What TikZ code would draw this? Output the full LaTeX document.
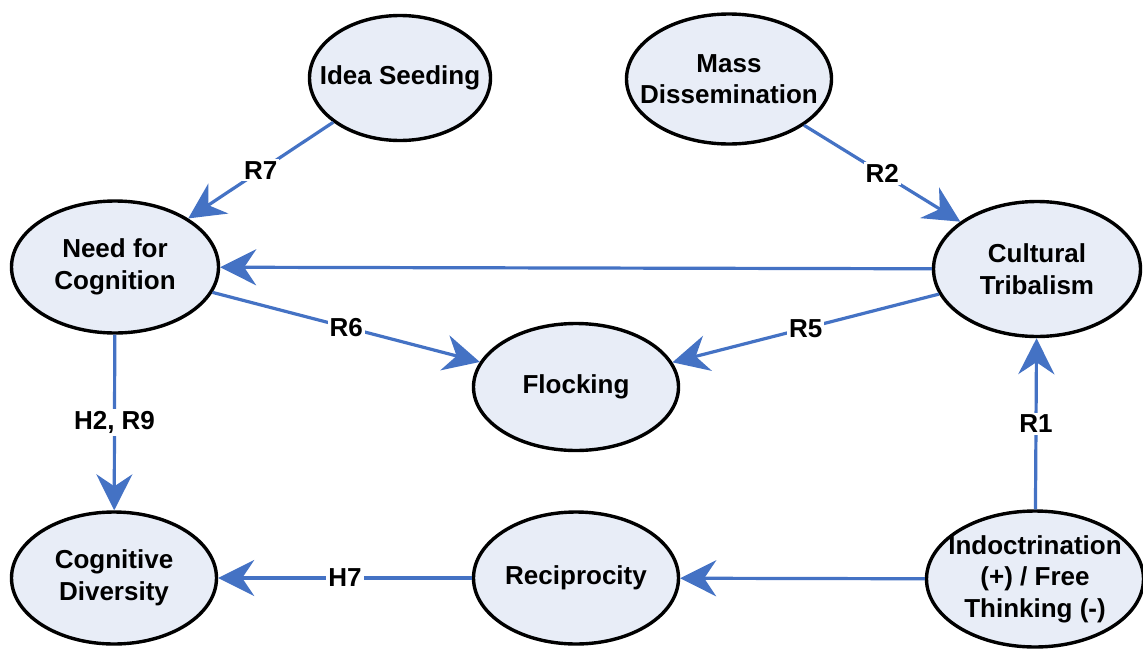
\documentclass[tikz,border=0pt]{standalone}
\usepackage{fontspec}
\setmainfont{Liberation Sans}
\usetikzlibrary{shapes.geometric,arrows.meta}
\definecolor{conceptfill}{RGB}{232,237,247}
\definecolor{linkblue}{RGB}{68,114,196}
\tikzset{
  concept/.style={ellipse,draw=black,line width=3.4pt,fill=conceptfill,
    align=center,inner sep=-20pt,minimum width=205pt,minimum height=132pt,
    font=\fontsize{26}{31.5}\selectfont\bfseries},
  link/.style={draw=linkblue,line width=3.2pt,
    -{Stealth[length=36pt,width=36pt,inset=12pt]}},
  tag/.style={fill=white,inner sep=2pt,font=\fontsize{26}{31}\selectfont\bfseries}
}
\begin{document}
\begin{tikzpicture}[x=1pt,y=-1pt]
\useasboundingbox(0,0)rectangle(1143,648);
\node[concept,minimum width=181pt,minimum height=125pt](seed)at(400,78){Idea Seeding};
\node[concept,minimum height=130pt](mass)at(729,79){Mass\\Dissemination};
\node[concept,minimum width=207pt](need)at(115,267){Need for\\Cognition};
\node[concept,minimum width=207pt,minimum height=135pt](tribe)at(1037,269){Cultural\\Tribalism};
\node[concept,minimum height=127pt](flock)at(576,387){Flocking};
\node[concept](diverse)at(114,578){Cognitive\\Diversity};
\node[concept](recip)at(576,578){Reciprocity};
\node[concept,minimum width=217pt,minimum height=136pt](indoc)at(1035,579){Indoctrination\\(+) / Free\\Thinking (-)};
\draw[link](seed)--node[tag]{R7}(need);
\draw[link](mass)--node[tag]{R2}(tribe);
\draw[link](tribe)--(need);
\draw[link](need)--node[tag]{R6}(flock);
\draw[link](tribe)--node[tag]{R5}(flock);
\draw[link](need)--node[tag]{H2, R9}(diverse);
\draw[link](indoc)--node[tag]{R1}(tribe);
\draw[link](indoc)--(recip);
\draw[link](recip)--node[tag]{H7}(diverse);
\end{tikzpicture}
\end{document}
